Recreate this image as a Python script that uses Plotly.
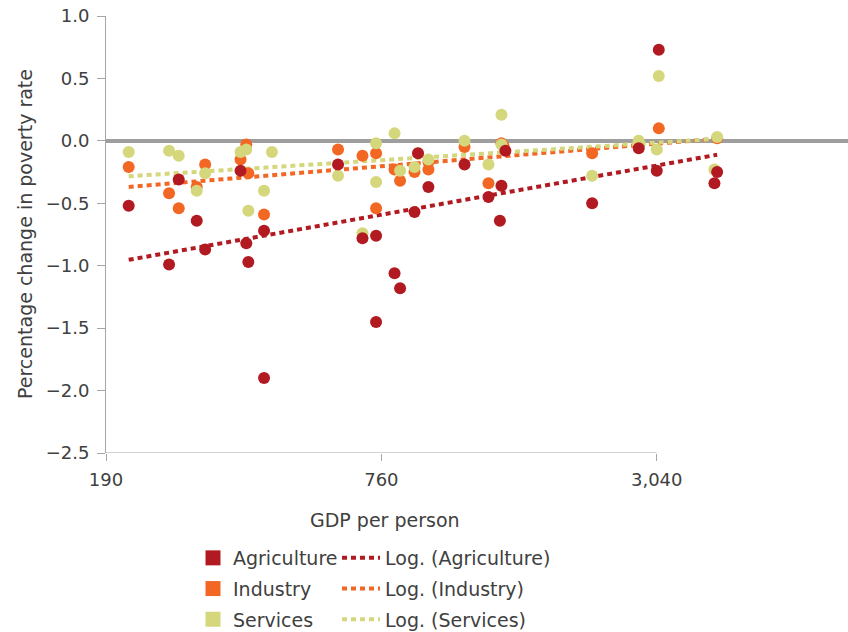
import numpy as np
import plotly.graph_objects as go

# ---------------- data ----------------
agr_gdp = [213, 261, 274, 300, 313, 374, 385, 389, 421, 421, 611, 691, 740, 740, 812,
           835, 898, 914, 963, 1155, 1303, 1391, 1380, 1419, 2196, 2776, 3071, 3040, 4064, 4120]
agr_change = [-0.52, -0.99, -0.31, -0.64, -0.87, -0.24, -0.82, -0.97, -0.72, -1.90, -0.19, -0.78,
              -0.76, -1.45, -1.06, -1.18, -0.57, -0.10, -0.37, -0.19, -0.45, -0.36, -0.64, -0.08,
              -0.50, -0.06, 0.73, -0.24, -0.34, -0.25]

ind_gdp = [213, 261, 274, 300, 313, 374, 385, 389, 421, 611, 691, 740, 740, 812, 835, 898,
           963, 963, 1155, 1303, 1391, 1405, 2196, 3071, 4120]
ind_change = [-0.21, -0.42, -0.54, -0.37, -0.19, -0.15, -0.03, -0.26, -0.59, -0.07, -0.12, -0.10,
              -0.54, -0.23, -0.32, -0.25, -0.23, -0.17, -0.05, -0.34, -0.02, -0.04, -0.10, 0.10, 0.02]

srv_gdp = [213, 261, 274, 300, 313, 374, 385, 389, 421, 438, 611, 691, 740, 740, 812, 835,
           898, 914, 963, 1155, 1303, 1391, 1391, 2196, 2776, 3071, 3040, 4120, 4064]
srv_change = [-0.09, -0.08, -0.12, -0.40, -0.26, -0.09, -0.07, -0.56, -0.40, -0.09, -0.28, -0.74,
              -0.02, -0.33, 0.06, -0.24, -0.21, -0.10, -0.15, 0.00, -0.19, 0.21, -0.03, -0.28,
              0.00, 0.52, -0.07, 0.03, -0.23]

series_names = ["Agriculture", "Industry", "Services"]
trend_names = ["Log. (Agriculture)", "Log. (Industry)", "Log. (Services)"]
x_tick_vals = [190, 760, 3040]
x_tick_text = ["190", "760", "3,040"]
y_range = [-2.5, 1.0]
x_title = "GDP per person"
y_title = "Percentage change in poverty rate"

# ---------------- style ----------------
COLORS = {"Agriculture": "#B21A22", "Industry": "#F26724", "Services": "#D4D77B"}
TEXT = "#404040"
AXIS = "#A6A6A6"
FONT = "DejaVu Sans"

data = {
    "Agriculture": (agr_gdp, agr_change),
    "Industry": (ind_gdp, ind_change),
    "Services": (srv_gdp, srv_change),
}

fig = go.Figure()

# logarithmic trend lines (fitted to the data)
for name, tname in zip(series_names, trend_names):
    xs, ys = data[name]
    a, b = np.polyfit(np.log(xs), ys, 1)
    xl = np.array([min(xs), max(xs)], dtype=float)
    fig.add_trace(go.Scatter(
        x=xl, y=a * np.log(xl) + b, mode="lines", name=tname,
        line=dict(color=COLORS[name], width=4, dash="5px,4px"),
        legend="legend2", legendgroup=tname, legendrank=series_names.index(name) + 1,
        showlegend=True, hoverinfo="skip"))

# points (industry at bottom, agriculture on top)
for name in ["Industry", "Services", "Agriculture"]:
    xs, ys = data[name]
    fig.add_trace(go.Scatter(
        x=xs, y=ys, mode="markers", name=name, showlegend=False,
        marker=dict(color=COLORS[name], size=12, line=dict(width=0))))

# legend entries with square swatches
for i, name in enumerate(series_names):
    fig.add_trace(go.Scatter(
        x=[None], y=[None], mode="markers", name=name,
        marker=dict(color=COLORS[name], size=15, symbol="square"),
        legend="legend", legendgroup=name, legendrank=i + 1, showlegend=True))

L, R, T, B = 106, 0, 16, 179
W, H = 848, 632
PW, PH = W - L - R, H - T - B
xmin = np.log10(x_tick_vals[0])
px_per_dec = 457.4
xmax = xmin + PW / px_per_dec

x_axis_end = (np.log10(x_tick_vals[-1]) - xmin) / (xmax - xmin)

fig.update_layout(
    width=W, height=H,
    margin=dict(l=L, r=R, t=T, b=B, autoexpand=False),
    paper_bgcolor="white", plot_bgcolor="white",
    font=dict(family=FONT, size=18, color=TEXT),
    xaxis=dict(type="log", range=[xmin, xmax], tickvals=x_tick_vals, ticktext=x_tick_text,
               showgrid=False, zeroline=False, showline=False,
               ticks="outside", ticklen=7, tickcolor=AXIS, tickwidth=1,
               ticklabelstandoff=3, tickfont=dict(size=18, color=TEXT)),
    yaxis=dict(range=y_range, dtick=0.5, tick0=0, tickformat=".1f",
               showgrid=False, showline=True, linecolor=AXIS, linewidth=1,
               ticks="outside", ticklen=8, tickcolor=AXIS, tickwidth=1,
               ticklabelstandoff=4, tickfont=dict(size=18, color=TEXT),
               zeroline=True, zerolinecolor="#9E9E9E", zerolinewidth=3.5),
    shapes=[dict(type="line", xref="paper", yref="y", x0=0, x1=x_axis_end,
                 y0=y_range[0], y1=y_range[0], line=dict(color=AXIS, width=1))],
    annotations=[
        dict(text=x_title, xref="paper", yref="paper",
             x=(385 - L) / PW, y=-67 / PH,
             xanchor="center", yanchor="middle", showarrow=False,
             font=dict(size=19, color=TEXT)),
        dict(text=y_title, xref="paper", yref="paper", textangle=-90,
             x=(25 - L) / PW, y=(H - B - 234) / PH,
             xanchor="center", yanchor="middle", showarrow=False,
             font=dict(size=19, color=TEXT)),
    ],
    legend=dict(xref="container", yref="container", x=193 / W, y=1 - 539 / H,
                xanchor="left", yanchor="top", bgcolor="rgba(0,0,0,0)",
                font=dict(size=19, color=TEXT), traceorder="grouped", tracegroupgap=3,
                itemwidth=30, itemclick=False, itemdoubleclick=False),
    legend2=dict(xref="container", yref="container", x=337 / W, y=1 - 539 / H,
                 xanchor="left", yanchor="top", bgcolor="rgba(0,0,0,0)",
                 font=dict(size=19, color=TEXT), traceorder="grouped", tracegroupgap=3,
                 itemwidth=38, itemclick=False, itemdoubleclick=False),
)

fig.write_html("out.html")
